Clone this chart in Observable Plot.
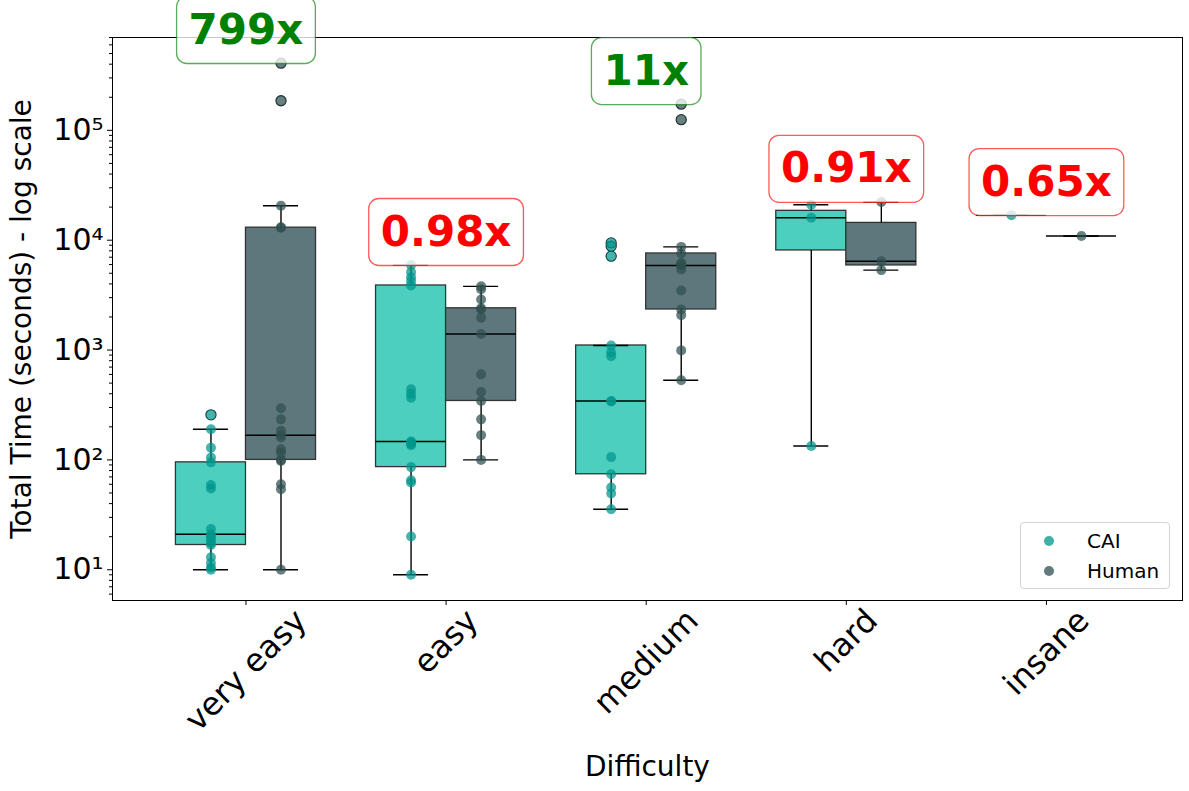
<!DOCTYPE html>
<html>
<head>
<meta charset="utf-8">
<script src="https://cdn.jsdelivr.net/npm/d3@7"></script>
<script src="https://cdn.jsdelivr.net/npm/@observablehq/plot@0.6"></script>
<style>
  body { margin: 0; background: #fff; font-family: "DejaVu Sans", sans-serif; }
  #wrap { position: relative; width: 1189px; height: 791px; overflow: hidden; }
  #legend { position: absolute; left: 1020px; top: 522px; width: 150px; height: 67px; box-sizing: border-box;
            border: 1px solid #d4d4d4; border-radius: 4px; background: rgba(255,255,255,0.85); font-size: 20px; color: #000; }
  #legend .item { position: absolute; left: 0; height: 24px; line-height: 24px; white-space: nowrap; }
  #legend .mk { position: absolute; left: 23px; top: 7px; width: 10px; height: 10px; border-radius: 50%; }
  #legend .lb { position: absolute; left: 66px; top: 0; }
</style>
</head>
<body>
<div id="wrap"><div id="chart"></div><div id="legend"></div></div>
<script>
// ---------------- data ----------------
const difficulties = ["very easy", "easy", "medium", "hard", "insane"];
const groups = ["CAI", "Human"];
const caiTimes = [
  [10, 10.5, 11.5, 13, 16.8, 17.5, 19, 20, 21, 23.5, 55, 59, 95, 105, 129, 190, 257],
  [9, 20.1, 62.2, 65.3, 86, 136, 140, 145, 147, 368, 401, 440, 3870, 4240, 4600, 5120, 5930],
  [35.6, 49.4, 56, 74, 106, 340, 344, 880, 950, 1100, 7160, 8810, 9440],
  [134, 16000, 21000],
  [16900]
];
const humanTimes = [
  [10, 54, 60, 98, 100, 116, 125, 160, 168, 184, 234, 295, 13000, 13100, 20600, 186000, 409000],
  [100, 168, 234, 344, 415, 601, 1400, 1970, 2340, 2400, 2890, 3570, 3800],
  [531, 993, 2080, 2340, 3490, 5420, 5890, 6010, 6200, 7570, 8690, 125000, 173000],
  [5340, 6440, 22300],
  [10900]
];
const speedups = [799, 0.98, 11, 0.91, 0.65];
const speedupLabels = ["799x", "0.98x", "11x", "0.91x", "0.65x"];
const yTicks = [10, 100, 1000, 10000, 100000];
const yLabel = "Total Time (seconds) - log scale";
const xLabel = "Difficulty";

// ---------------- styles ----------------
const boxFill = {CAI: "#4dcfc0", Human: "#5e777c"};
const dotFill = {CAI: "#00968c", Human: "#2f4f4f"};
const dodge = 0.175;          // half box width (category units)

// ---------------- derived tables ----------------
const series = {CAI: caiTimes, Human: humanTimes};
function boxStats(vals) {
  const s = vals.slice().sort(d3.ascending);
  const q1 = d3.quantileSorted(s, 0.25), med = d3.quantileSorted(s, 0.5), q3 = d3.quantileSorted(s, 0.75);
  const iqr = q3 - q1;
  const lo = d3.min(s.filter(v => v >= q1 - 1.5 * iqr));
  const hi = d3.max(s.filter(v => v <= q3 + 1.5 * iqr));
  return {q1, med, q3, lo, hi};
}
const boxes = [], points = [], fliers = [];
difficulties.forEach((d, i) => {
  groups.forEach(g => {
    const pos = i + (g === "CAI" ? -dodge : dodge);
    const vals = series[g][i];
    const st = boxStats(vals);
    boxes.push({difficulty: d, group: g, pos, ...st, fill: boxFill[g]});
    vals.forEach(v => {
      points.push({pos, value: v, fill: dotFill[g]});
      if (v > st.hi || v < st.lo) fliers.push({pos, value: v});
    });
  });
});
const labels = difficulties.map((d, i) => ({
  i,
  y: 2 * d3.max([...caiTimes[i], ...humanTimes[i]]),
  text: speedupLabels[i],
  color: speedups[i] > 1 ? "green" : "red"
}));
const minorTicks = [];
for (let k = 0; k <= 5; k++) for (let m = 2; m <= 9; m++) {
  const v = m * Math.pow(10, k);
  if (v >= 5.25 && v <= 7e5) minorTicks.push(v);
}
const sup = "⁰¹²³⁴⁵⁶⁷⁸⁹";
const fmtPow = v => "10" + String(Math.round(Math.log10(v))).split("").map(c => sup[+c]).join("");

// x tick labels rotated 45°, centred on the tick, top-aligned (matplotlib style)
const ctx = document.createElement("canvas").getContext("2d");
const xFont = 32;
ctx.font = xFont + 'px "DejaVu Sans"';
const xTickLabelMarks = difficulties.map((d, i) => {
  const L = ctx.measureText(d).width, h = xFont * 0.95;
  return Plot.text([d], {
    x: [i], frameAnchor: "bottom", text: t => t,
    dy: 4 + (L + h) * Math.SQRT1_2 / 2,
    rotate: -45, fontSize: xFont, textAnchor: "middle", lineAnchor: "middle", fill: "black"
  });
});

const chart = Plot.plot({
  width: 1189,
  height: 791,
  marginLeft: 112,
  marginRight: 7,
  marginTop: 37,
  marginBottom: 191,
  style: {fontFamily: '"DejaVu Sans", sans-serif', background: "white", color: "black", overflow: "visible"},
  x: {type: "linear", domain: [-0.667, 4.68]},
  y: {type: "log", domain: [5.25, 7.0e5]},
  color: {type: "identity"},
  marks: [
    // boxes
    Plot.rect(boxes, {x1: d => d.pos - dodge, x2: d => d.pos + dodge, y1: "q1", y2: "q3",
      fill: "fill", stroke: "#333", strokeWidth: 1.3}),
    // whiskers
    Plot.ruleX(boxes, {x: "pos", y1: "lo", y2: "q1", stroke: "black", strokeWidth: 1.4}),
    Plot.ruleX(boxes, {x: "pos", y1: "q3", y2: "hi", stroke: "black", strokeWidth: 1.4}),
    // caps
    Plot.ruleY(boxes, {y: "lo", x1: d => d.pos - dodge / 2, x2: d => d.pos + dodge / 2, stroke: "black", strokeWidth: 1.4}),
    Plot.ruleY(boxes, {y: "hi", x1: d => d.pos - dodge / 2, x2: d => d.pos + dodge / 2, stroke: "black", strokeWidth: 1.4}),
    // medians
    Plot.ruleY(boxes, {y: "med", x1: d => d.pos - dodge, x2: d => d.pos + dodge, stroke: "black", strokeWidth: 1.5}),
    // fliers
    Plot.dot(fliers, {x: "pos", y: "value", r: 5, stroke: "#1a2a2a", strokeWidth: 1.3, fill: "none"}),
    // strip points
    Plot.dot(points, {x: "pos", y: "value", r: 5, fill: "fill", fillOpacity: 0.72}),
    // axes
    Plot.axisY({ticks: yTicks, tickSize: 5, tickPadding: 4, fontSize: 30, tickFormat: fmtPow, label: null}),
    Plot.axisY({ticks: minorTicks, tickSize: 3, tickFormat: () => "", label: null}),
    Plot.axisX({ticks: [0, 1, 2, 3, 4], tickSize: 5, tickFormat: () => "", label: null}),
    ...xTickLabelMarks,
    Plot.text([xLabel], {frameAnchor: "bottom", dy: 167, fontSize: 28, textAnchor: "middle", lineAnchor: "middle", fill: "black", text: d => d}),
    Plot.text([yLabel], {frameAnchor: "left", dx: -90, rotate: -90, fontSize: 28, textAnchor: "middle", lineAnchor: "middle", fill: "black", text: d => d}),
    Plot.frame({stroke: "black", strokeWidth: 1}),
    // speedup labels
    Plot.text(labels, {x: "i", y: "y", text: "text", fill: "color", fontSize: 42, fontWeight: "bold",
      textAnchor: "middle", lineAnchor: "middle"})
  ]
});
document.getElementById("chart").appendChild(chart);

// rounded label boxes behind the speedup texts
const ns = "http://www.w3.org/2000/svg";
chart.querySelectorAll("text").forEach(t => {
  if (!speedupLabels.includes(t.textContent.trim())) return;
  const b = t.getBBox();
  const r = document.createElementNS(ns, "rect");
  const px = 12, py = 9;
  r.setAttribute("x", b.x - px);
  r.setAttribute("y", b.y - py + 1);
  r.setAttribute("width", b.width + 2 * px);
  r.setAttribute("height", b.height + 2 * py);
  r.setAttribute("rx", 10);
  r.setAttribute("fill", "white");
  r.setAttribute("fill-opacity", 0.78);
  const col = t.getAttribute("fill") || getComputedStyle(t).fill;
  r.setAttribute("stroke", col);
  r.setAttribute("stroke-opacity", 0.65);
  r.setAttribute("stroke-width", 1.3);
  if (t.getAttribute("transform")) r.setAttribute("transform", t.getAttribute("transform"));
  t.parentNode.insertBefore(r, t);
});

// legend
const legend = document.getElementById("legend");
groups.forEach((g, k) => {
  const item = document.createElement("div");
  item.className = "item";
  item.style.top = (6 + 30 * k) + "px";
  item.style.width = "100%";
  const mk = document.createElement("span");
  mk.className = "mk";
  mk.style.background = dotFill[g];
  mk.style.opacity = 0.75;
  const lb = document.createElement("span");
  lb.className = "lb";
  lb.textContent = g;
  item.appendChild(mk); item.appendChild(lb);
  legend.appendChild(item);
});
</script>
</body>
</html>
